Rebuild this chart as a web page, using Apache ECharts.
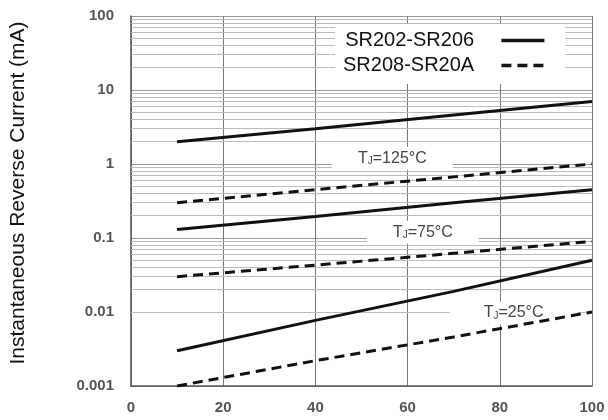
<!DOCTYPE html>
<html>
<head>
<meta charset="utf-8">
<script src="https://cdn.jsdelivr.net/npm/echarts@6/dist/echarts.min.js"></script>
<style>
  html, body { margin: 0; padding: 0; background: #fff; }
  #chart { width: 608px; height: 420px; }
</style>
</head>
<body>
<div id="chart"></div>
<script>
// percent of rated peak reverse voltage
var xValues = [10, 40, 70, 100];

// reverse current (mA) per junction temperature
var solid125 = [2, 3.0, 4.6, 7];
var dashed125 = [0.3, 0.45, 0.67, 1];
var solid75 = [0.13, 0.195, 0.3, 0.45];
var dashed75 = [0.03, 0.043, 0.062, 0.09];
var solid25 = [0.003, 0.0077, 0.019, 0.05];
var dashed25 = [0.001, 0.0022, 0.0046, 0.01];

var legendNames = ["SR202-SR206", "SR208-SR20A"];
var tempLabels = ["125", "75", "25"];
var labelX = [56.7, 63.3, 83];
var labelY = [1.2, 0.12, 0.0097];

var decades = [0.001, 0.01, 0.1, 1, 10];
var minorSteps = [2, 3, 4, 5, 6, 7, 8, 9];

function pairs(ys) {
  return xValues.map(function (x, i) { return [x, ys[i]]; });
}

var minorLines = [];
decades.forEach(function (d) {
  minorSteps.forEach(function (m) {
    minorLines.push({ yAxis: d * m });
  });
});

function tempMark(i) {
  return {
    silent: true,
    z: 2,
    symbol: "rect",
    symbolSize: 1,
    itemStyle: { color: "rgba(0,0,0,0)" },
    label: {
      show: true,
      position: "inside",
      formatter: "{t|T}{j|J}{t|=" + tempLabels[i] + "°C}",
      backgroundColor: "#fff",
      padding: i === 2 ? [3, 34] : [3, 26],
      rich: {
        t: { fontSize: 16, color: "#444", fontFamily: "Liberation Sans" },
        j: { fontSize: 10, color: "#444", fontFamily: "Liberation Sans", padding: [7, 0, 0, 0] }
      }
    },
    data: [{ coord: [labelX[i], labelY[i]] }]
  };
}

function lineSeries(name, ys, dashed, mark) {
  var s = {
    name: name,
    type: "line",
    z: 3,
    symbol: "none",
    silent: true,
    data: pairs(ys),
    lineStyle: {
      color: "#111",
      width: 3,
      type: dashed ? [10, 6] : "solid"
    },
    itemStyle: { color: "#111" }
  };
  if (mark) s.markPoint = mark;
  return s;
}

var chart = echarts.init(document.getElementById("chart"));
var option = {
  animation: false,
  grid: { left: 119, right: 16, top: 16, bottom: 34 },
  legend: {
    data: legendNames,
    orient: "vertical",
    align: "right",
    left: 335,
    top: 24,
    padding: [6, 19, 8, 8],
    backgroundColor: "#fff",
    itemWidth: 43,
    itemHeight: 14,
    itemGap: 4,
    selectedMode: false,
    itemStyle: { opacity: 0 },
    lineStyle: { width: 3.5 },
    formatter: function (n) { return n + "    "; },
    textStyle: { fontSize: 20, color: "#111", fontFamily: "Liberation Sans", lineHeight: 21 }
  },
  xAxis: {
    type: "value",
    min: 0,
    max: 100,
    interval: 20,
    axisLine: { show: true, lineStyle: { color: "#555", width: 1.5 } },
    axisTick: { show: false },
    splitLine: { show: true, lineStyle: { color: "#777", width: 1 } },
    axisLabel: { fontSize: 15, color: "#555", fontWeight: "bold", margin: 14, fontFamily: "Liberation Sans" }
  },
  yAxis: {
    type: "log",
    logBase: 10,
    min: 0.001,
    max: 100,
    name: "Instantaneous Reverse Current (mA)",
    nameLocation: "middle",
    nameRotate: 90,
    nameGap: 102,
    nameTextStyle: { fontSize: 21, color: "#111", fontFamily: "Liberation Sans", padding: [0, 0, 0, 16] },
    axisLine: { show: true, lineStyle: { color: "#555", width: 1.5 } },
    axisTick: { show: false },
    splitLine: { show: true, lineStyle: { color: "#999", width: 1 } },
    axisLabel: {
      fontSize: 15, color: "#555", fontWeight: "bold", margin: 17, fontFamily: "Liberation Sans",
      formatter: function (v) { return v < 1 ? String(parseFloat(v.toPrecision(1))) : String(Math.round(v)); }
    }
  },
  series: [
    {
      name: "minor",
      type: "line",
      data: [],
      silent: true,
      markLine: {
        silent: true,
        z: 1,
        symbol: "none",
        label: { show: false },
        lineStyle: { color: "#bbb", width: 1, type: "solid" },
        data: minorLines
      }
    },
    lineSeries(legendNames[0], solid125, false, tempMark(0)),
    lineSeries(legendNames[1], dashed125, true),
    lineSeries(legendNames[0], solid75, false, tempMark(1)),
    lineSeries(legendNames[1], dashed75, true),
    lineSeries(legendNames[0], solid25, false, tempMark(2)),
    lineSeries(legendNames[1], dashed25, true)
  ]
};
chart.setOption(option);
</script>
</body>
</html>
